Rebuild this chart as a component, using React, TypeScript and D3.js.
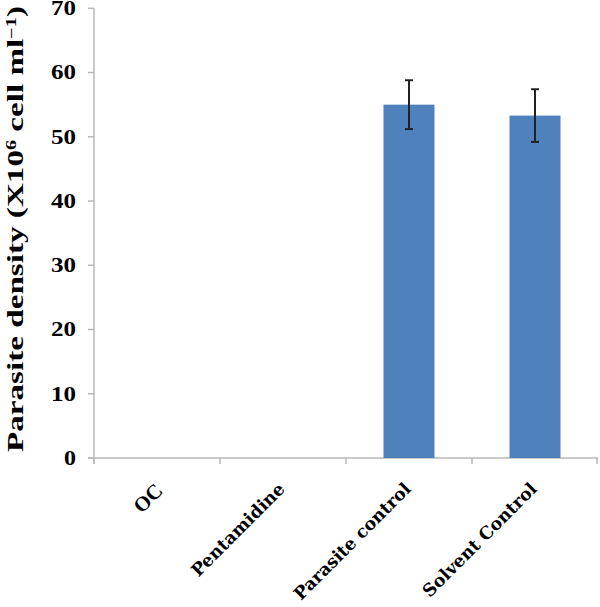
import React from "react";
import * as d3 from "d3";

const categories = ["OC", "Pentamidine", "Parasite control", "Solvent Control"];
const densities = [0, 0, 55.0, 53.3];
const errors = [0, 0, 3.8, 4.1];
const yTicks = [0, 10, 20, 30, 40, 50, 60, 70];

const W = 600;
const H = 607;
const left = 94;
const right = 598;
const top = 8.3;
const bottom = 458;

const App = () => {
  const x = d3.scaleBand().domain(categories).range([left, right]).padding(0);
  const y = d3.scaleLinear().domain([0, 70]).range([bottom, top]);
  const barW = x.bandwidth() * 0.405;
  const axisColor = "#b8b8b8";

  return (
    <svg width={W} height={H} style={{ display: "block", position: "absolute", left: 0, top: 0 }}>
      <rect width={W} height={H} fill="#fff" />
      {/* y axis */}
      <line x1={left} x2={left} y1={top} y2={bottom + 5} stroke={axisColor} strokeWidth={1.5} />
      {yTicks.map((t) => (
        <g key={t}>
          <line x1={left - 6} x2={left} y1={y(t)} y2={y(t)} stroke={axisColor} strokeWidth={1.5} />
          <text
            x={76}
            y={y(t)}
            dy="0.34em"
            textAnchor="end"
            fontFamily="'Liberation Serif', serif"
            fontWeight="bold"
            fontSize={20}
            textLength={t === 0 ? 12 : 25}
            lengthAdjust="spacingAndGlyphs"
          >
            {t}
          </text>
        </g>
      ))}
      {/* x axis */}
      <line x1={left - 6} x2={right} y1={bottom} y2={bottom} stroke={axisColor} strokeWidth={1.5} />
      {categories.map((c) => (
        <line key={c} x1={x(c)} x2={x(c)} y1={bottom} y2={bottom + 6} stroke={axisColor} strokeWidth={1.5} />
      ))}
      <line x1={right - 1} x2={right - 1} y1={bottom} y2={bottom + 6} stroke={axisColor} strokeWidth={1.5} />
      {/* bars */}
      {categories.map((c, i) =>
        densities[i] > 0 ? (
          <rect
            key={c}
            x={x(c)! + x.bandwidth() / 2 - barW / 2}
            y={y(densities[i])}
            width={barW}
            height={bottom - y(densities[i])}
            fill="#4f81bd"
          />
        ) : null
      )}
      {/* error bars */}
      {categories.map((c, i) => {
        if (!errors[i]) return null;
        const cx = x(c)! + x.bandwidth() / 2;
        const hi = y(densities[i] + errors[i]);
        const lo = y(densities[i] - errors[i]);
        return (
          <g key={c} stroke="#222" strokeWidth={2}>
            <line x1={cx} x2={cx} y1={hi} y2={lo} />
            <line x1={cx - 4} x2={cx + 4} y1={hi} y2={hi} />
            <line x1={cx - 4} x2={cx + 4} y1={lo} y2={lo} />
          </g>
        );
      })}
      {/* category labels */}
      {categories.map((c, i) => {
        const cx = x(c)! + x.bandwidth() / 2 + (i === 0 ? 7 : 3);
        return (
          <text
            key={c}
            transform={`translate(${cx},${i === 0 ? 492 : 490}) rotate(-45)`}
            textAnchor="end"
            fontFamily={i === 0 ? "'Liberation Serif', serif" : "'DejaVu Serif', serif"}
            fontWeight="bold"
            fontSize={i === 0 ? 21 : 17.5}
          >
            {c}
          </text>
        );
      })}
      {/* y title */}
      <text
        transform={`translate(${23},${229}) rotate(-90)`}
        textAnchor="middle"
        fontFamily="'Liberation Serif', serif"
        fontWeight="bold"
        fontSize={23}
        textLength={446}
        lengthAdjust="spacingAndGlyphs"
      >
        Parasite density (X10
        <tspan baselineShift="super" fontSize={14}>6</tspan> cell ml
        <tspan baselineShift="super" fontSize={14}>−1</tspan>)
      </text>
    </svg>
  );
};

export default App;
